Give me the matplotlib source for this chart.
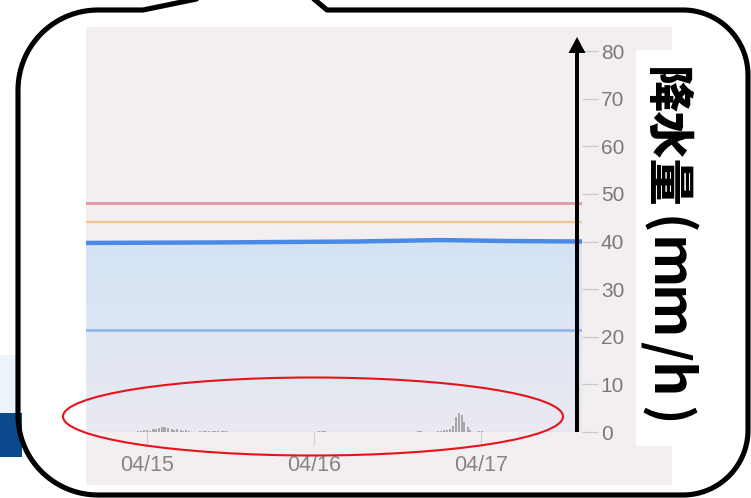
import numpy as np
import matplotlib
matplotlib.use("Agg")
import matplotlib.pyplot as plt
from matplotlib.patches import Rectangle, Ellipse, FancyArrow
from matplotlib.colors import LinearSegmentedColormap

plt.rcParams['font.family'] = ['Liberation Sans', 'DejaVu Sans']

W, H = 751, 498

# rainfall bars (hours from 04/15 00:00, mm/h)
bar_hours = [-1.3, -0.9, -0.4, 0.0, 0.4, 0.9, 1.3, 1.7, 2.2, 2.6, 3.0, 3.5, 3.9, 4.3,
             4.8, 5.2, 5.6, 6.0, 7.6, 8.1, 8.5, 8.9, 9.4, 9.8, 10.2, 10.7, 11.1, 11.5,
             24.7, 25.2, 25.6,
             39.0, 39.3, 41.8, 42.2, 42.6, 43.1, 43.5, 43.9, 44.4, 44.8, 45.2, 45.6,
             46.1, 46.4, 47.7, 48.1]
bar_values = [0.3, 0.3, 0.4, 0.4, 0.3, 0.6, 0.7, 0.9, 1.0, 1.0, 0.9, 0.7, 0.5, 0.6,
              0.4, 0.3, 0.4, 0.2, 0.2, 0.3, 0.2, 0.3, 0.3, 0.2, 0.3, 0.2, 0.3, 0.2,
              0.2, 0.2, 0.2,
              0.3, 0.3, 0.3, 0.3, 0.4, 0.4, 0.6, 1.2, 3.1, 4.0, 3.5, 2.1,
              1.0, 0.5, 0.3, 0.3]

# forecast line (blue, filled)
line_hours = [-8.8, 10, 30, 42, 52, 62.5]
line_values = [39.7, 39.8, 40.0, 40.3, 40.1, 40.0]

# threshold lines
levels = [48, 44, 21.5]
level_colors = ['#e8939f', '#f4c592', '#8fb1ee']
level_widths = [1.9, 1.7, 1.8]

xtick_hours = [0, 24, 48]
xtick_labels = ['04/15', '04/16', '04/17']
ytick_values = [0, 10, 20, 30, 40, 50, 60, 70, 80]
ylabel_jp = '降水量'
ylabel_unit = '(mm/h)'

fig = plt.figure(figsize=(W / 100, H / 100), dpi=100)
fig.patch.set_facecolor('white')

def px_axes(z):
    a = fig.add_axes([0, 0, 1, 1], zorder=z)
    a.set_xlim(0, W)
    a.set_ylim(H, 0)
    a.axis('off')
    a.patch.set_visible(False)
    return a

# background layer: page remnants and chart panel
back = px_axes(0)
back.add_patch(Rectangle((0, 355), 20, 58, color='#edf3fa', lw=0))
back.add_patch(Rectangle((0, 413), 22, 44, color='#0b4a8c', lw=0))
back.add_patch(Rectangle((86, 27), 586, 458, color='#f3eff0', lw=0))

# chart
ax = fig.add_axes([86 / W, 1 - 432 / H, (582 - 86) / W, (432 - 51) / H], zorder=1)
ax.patch.set_visible(False)
for s in ax.spines.values():
    s.set_visible(False)

# gradient fill under the blue line
poly = ax.fill_between(line_hours, line_values, 0, facecolor='none', lw=0)
cmap = LinearSegmentedColormap.from_list('fill', ['#ebe9f1', '#dee6f3', '#d3e3f5'])
grad = np.linspace(0, 1, 256).reshape(-1, 1)
im = ax.imshow(grad, cmap=cmap, origin='lower', aspect='auto',
               extent=[-8.8, 62.5, 0, 41], zorder=1)
im.set_clip_path(poly.get_paths()[0], ax.transData)
ax.set_xlim(-8.8, 62.5)
ax.set_ylim(0, 80)

for lv, c, w in zip(levels, level_colors, level_widths):
    ax.axhline(lv, color=c, lw=w, zorder=2)
ax.plot(line_hours, line_values, color='#4a8ae6', lw=3.2, zorder=3,
        solid_capstyle='butt')

ax.axhline(0, color='#d2d0d4', lw=1, zorder=2)
ax.bar(bar_hours, bar_values, width=0.3, color='#a9a9ab', zorder=3)

ax.yaxis.tick_right()
ax.set_yticks(ytick_values)
ax.tick_params(axis='y', length=11.5, width=0.9, color='#c9c9c9',
               labelsize=15, labelcolor='#7a7a7a', pad=2)
ax.set_xticks(xtick_hours)
ax.set_xticklabels(xtick_labels)
ax.tick_params(axis='x', length=9.4, width=0.9, color='#d0d0d0',
               labelsize=15.5, labelcolor='#858585', pad=7)

# overlay: callout box, arrow, label, ellipse
over = px_axes(2)
over.add_patch(Rectangle((636, 50), 115, 396, color='white', lw=0))

arc = lambda cx, cy, r, a0, a1: [(cx + r * np.cos(t), cy - r * np.sin(t))
                                 for t in np.radians(np.linspace(a0, a1, 30))]
pts = [(216, -5), (143, 10)]
pts += arc(98, 90, 80, 90, 180)
pts += arc(98, 415, 80, 180, 270)
pts += arc(683, 430, 65, 270, 360)
pts += arc(683, 75, 65, 0, 90)
pts += [(327, 10), (309, -5)]
xs, ys = zip(*pts)
over.plot(xs, ys, color='black', lw=3.7, solid_joinstyle='round',
          solid_capstyle='round')

over.add_patch(FancyArrow(577, 432, 0, -395, width=4, head_width=17,
                          head_length=16, length_includes_head=True,
                          color='black', lw=0))
over.add_patch(Ellipse((313, 416.5), 500, 78, fill=False, ec='#e5131b', lw=1.5))

# vertical axis title, read top to bottom
cjk = ['Noto Sans CJK JP', 'DejaVu Sans']
base_x = 650
over.text(base_x, 138, ylabel_jp, rotation=-90, rotation_mode='anchor',
          ha='center', va='baseline', fontsize=34, fontweight='black',
          color='black', family=cjk)
unit_y = [226, 264, 314, 351, 382, 416]
unit_size = [37, 40, 40, 37, 40, 37]
for ch, yy, fs in zip(ylabel_unit, unit_y, unit_size):
    over.text(base_x, yy, ch, rotation=-90, rotation_mode='anchor',
              ha='center', va='baseline', fontsize=fs, fontweight='bold',
              color='black', family=cjk)

fig.savefig('out.png', dpi=100)
